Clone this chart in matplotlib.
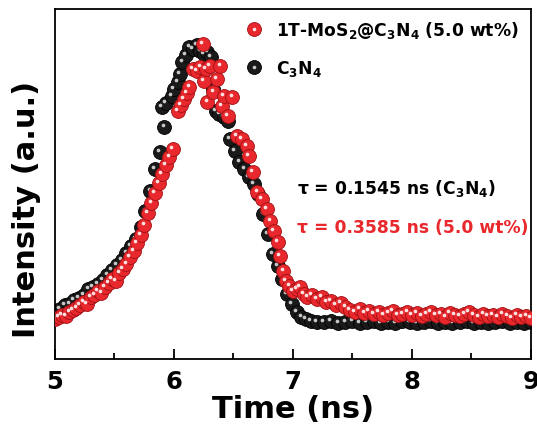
import numpy as np
import matplotlib
matplotlib.use("Agg")
import matplotlib.pyplot as plt
from matplotlib.lines import Line2D
from matplotlib.legend_handler import HandlerTuple
from matplotlib.transforms import offset_copy

plt.rcParams['font.family'] = ['DejaVu Sans']
plt.rcParams['font.weight'] = 'bold'
plt.rcParams['mathtext.fontset'] = 'custom'
plt.rcParams['mathtext.rm'] = 'DejaVu Sans:bold'
plt.rcParams['mathtext.bf'] = 'DejaVu Sans:bold'
plt.rcParams['mathtext.it'] = 'DejaVu Sans:bold'

# C3N4 decay (time in ns, intensity in a.u.)
c3n4_t = [5.00, 5.04, 5.08, 5.12, 5.16, 5.20, 5.24, 5.28, 5.32, 5.36, 5.40, 5.44, 5.48,
          5.52, 5.56, 5.60, 5.64, 5.68, 5.72, 5.76, 5.80, 5.84, 5.88, 5.92, 5.90, 5.93,
          5.98, 6.00, 6.03, 6.05, 6.07, 6.10, 6.13, 6.16, 6.19, 6.22, 6.25, 6.28, 6.31,
          6.33, 6.35, 6.38, 6.42, 6.45, 6.47, 6.51, 6.55, 6.59, 6.63, 6.67, 6.71, 6.75,
          6.79, 6.83, 6.87, 6.91, 6.95, 6.99, 7.03, 7.07, 7.11, 7.15, 7.20, 7.26, 7.32,
          7.38, 7.44, 7.50, 7.56, 7.62, 7.68, 7.74, 7.80, 7.86, 7.92, 7.98, 8.04, 8.10,
          8.16, 8.22, 8.28, 8.34, 8.40, 8.46, 8.52, 8.58, 8.64, 8.70, 8.76, 8.82, 8.88,
          8.94, 9.00]
c3n4_i = [48, 50, 54, 55, 59, 61, 64, 70, 72, 75, 79, 84, 89,
          94, 99, 106, 113, 120, 132, 148, 168, 190, 207, 232, 252, 256,
          263, 270, 277, 285, 297, 304, 312, 310, 314, 308, 305, 307, 302,
          270, 248, 245, 242, 238, 220, 208, 197, 190, 182, 175, 165, 145,
          125, 105, 93, 80, 65, 55, 47, 42, 40, 38, 37, 37, 38,
          36, 37, 38, 36, 37, 38, 36, 37, 36, 38, 37, 36, 37,
          38, 36, 37, 36, 37, 38, 36, 37, 36, 37, 38, 36, 37,
          36, 37]

# 1T-MoS2@C3N4 (5.0 wt%) decay
mos2_t = [5.00, 5.03, 5.06, 5.09, 5.12, 5.15, 5.18, 5.21, 5.24, 5.27, 5.30, 5.33, 5.36,
          5.39, 5.42, 5.45, 5.48, 5.51, 5.54, 5.57, 5.60, 5.63, 5.66, 5.69, 5.72, 5.75,
          5.78, 5.81, 5.84, 5.87, 5.90, 5.93, 5.96, 5.99, 6.03, 6.06, 6.08, 6.11, 6.13,
          6.16, 6.19, 6.22, 6.24, 6.25, 6.27, 6.28, 6.30, 6.33, 6.36, 6.39, 6.40, 6.42,
          6.45, 6.49, 6.53, 6.57, 6.61, 6.63, 6.66, 6.70, 6.74, 6.78, 6.81, 6.84, 6.87,
          6.89, 6.92, 6.94, 6.97, 7.00, 7.03, 7.06, 7.09, 7.12, 7.16, 7.20, 7.24, 7.28,
          7.32, 7.36, 7.40, 7.44, 7.48, 7.52, 7.56, 7.60, 7.64, 7.68, 7.72, 7.76, 7.80,
          7.84, 7.88, 7.92, 7.96, 8.00, 8.04, 8.08, 8.12, 8.16, 8.20, 8.24, 8.28, 8.32,
          8.36, 8.40, 8.44, 8.48, 8.52, 8.56, 8.60, 8.64, 8.68, 8.72, 8.76, 8.80, 8.84,
          8.88, 8.92, 8.96, 9.00]
mos2_i = [40, 42, 44, 43, 47, 49, 51, 54, 57, 55, 62, 64, 68,
          66, 72, 76, 80, 78, 86, 90, 95, 102, 108, 116, 124, 134,
          146, 156, 166, 176, 185, 194, 202, 210, 248, 254, 260, 266, 272,
          290, 288, 292, 315, 278, 290, 257, 293, 267, 280, 293, 253, 263,
          243, 262, 223, 220, 213, 203, 187, 167, 160, 150, 138, 128, 117,
          103, 88, 78, 73, 68, 70, 72, 65, 62, 64, 60, 62, 57,
          58, 54, 56, 52, 49, 47, 50, 46, 48, 45, 47, 44, 46,
          48, 44, 45, 47, 44, 46, 43, 45, 47, 44, 45, 42, 46,
          44, 43, 45, 47, 44, 42, 45, 43, 44, 42, 45, 43, 41,
          44, 42, 43, 41]

labels = ['1T-MoS$_2$@C$_3$N$_4$ (5.0 wt%)', 'C$_3$N$_4$']
tau_texts = ['τ = 0.1545 ns (C$_3$N$_4$)', 'τ = 0.3585 ns (5.0 wt%)']

red = '#e8282c'
red_edge = '#a01015'
black = '#1a1a1a'

fig = plt.figure(figsize=(5.37, 4.27), dpi=100)
ax = fig.add_axes([0.1024, 0.1569, 0.8864, 0.8197])

hl_trans = offset_copy(ax.transData, fig=fig, x=-1.2, y=1.5, units='points')
ms = 100

ax.scatter(c3n4_t, c3n4_i, s=ms, color=black, edgecolors='#000000', linewidths=0.6, zorder=2)
ax.scatter(c3n4_t, c3n4_i, s=7, color='#c8c8c8', linewidths=0, transform=hl_trans, zorder=2.1)
ax.scatter(mos2_t, mos2_i, s=ms, color=red, edgecolors=red_edge, linewidths=0.6, zorder=3)
ax.scatter(mos2_t, mos2_i, s=7, color='#ffe0e0', linewidths=0, transform=hl_trans, zorder=3.1)

ax.set_xlim(5, 9)
ax.set_ylim(0, 350)
ax.set_xticks([5, 6, 7, 8, 9])
ax.set_xticks([5.5, 6.5, 7.5, 8.5], minor=True)
ax.set_yticks([])
ax.tick_params(axis='x', which='major', direction='in', length=7, width=1.3,
               labelsize=17.5, pad=7, top=False)
ax.tick_params(axis='x', which='minor', direction='in', length=4, width=1.3, top=False)
for sp in ax.spines.values():
    sp.set_linewidth(1.3)

ax.set_xlabel('Time (ns)', fontsize=22, fontweight='bold')
ax.xaxis.set_label_coords(0.5, -0.1)
ax.set_ylabel('Intensity (a.u.)', fontsize=22, fontweight='bold')
ax.yaxis.set_label_coords(-0.03, 0.43)

h_red = (Line2D([], [], ls='none', marker='o', ms=10, mfc=red, mec=red_edge, mew=0.6),
         Line2D([], [], ls='none', marker='o', ms=2.6, mfc='#ffe0e0', mew=0))
h_blk = (Line2D([], [], ls='none', marker='o', ms=10, mfc=black, mec='#000000', mew=0.6),
         Line2D([], [], ls='none', marker='o', ms=2.6, mfc='#c8c8c8', mew=0))
ax.legend([h_red, h_blk], labels, handler_map={tuple: HandlerTuple(ndivide=1)},
          loc='upper left', bbox_to_anchor=(0.375, 1.005), frameon=False,
          fontsize=12.3, handlelength=1.0, handletextpad=0.8, labelspacing=1.05,
          borderaxespad=0.3)

ax.text(0.508, 0.491, tau_texts[0], transform=ax.transAxes, fontsize=12.3,
        fontweight='bold', color='black', va='center', ha='left')
ax.text(0.508, 0.377, tau_texts[1], transform=ax.transAxes, fontsize=12.3,
        fontweight='bold', color=red, va='center', ha='left')

fig.savefig('out.png', dpi=100)
